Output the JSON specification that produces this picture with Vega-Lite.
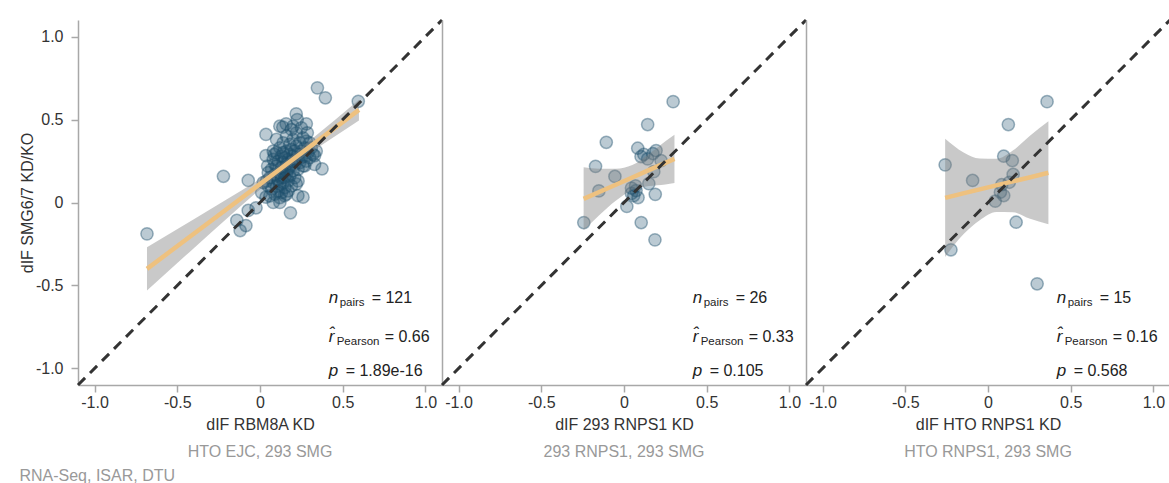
{
  "$schema": "https://vega.github.io/schema/vega-lite/v6.json",
  "padding": {"left": 19, "top": 14, "right": 0, "bottom": 2},
  "background": "white",
  "spacing": 0,
  "bounds": "flush",
  "title": {"text": "RNA-Seq, ISAR, DTU", "orient": "bottom", "anchor": "start", "offset": 8, "color": "#999999", "fontSize": 16, "fontWeight": "normal"},
  "datasets": {
    "diag": [{"x": -1.1, "y": -1.1}, {"x": 1.1, "y": 1.1}],
    "pts1": [
      {"x": -0.683, "y": -0.189}, {"x": -0.221, "y": 0.158}, {"x": -0.071, "y": 0.133}, {"x": 0.036, "y": 0.41},
      {"x": 0.347, "y": 0.691}, {"x": 0.395, "y": 0.631}, {"x": 0.594, "y": 0.61}, {"x": 0.375, "y": 0.203},
      {"x": 0.184, "y": -0.062}, {"x": 0.26, "y": 0.032}, {"x": -0.14, "y": -0.108}, {"x": -0.12, "y": -0.169},
      {"x": -0.085, "y": -0.139}, {"x": -0.071, "y": -0.048}, {"x": -0.024, "y": -0.032}, {"x": 0.036, "y": 0.032},
      {"x": 0.219, "y": 0.534}, {"x": 0.225, "y": 0.5}, {"x": 0.138, "y": 0.454}, {"x": 0.158, "y": 0.474},
      {"x": 0.28, "y": 0.474}, {"x": 0.286, "y": 0.42}, {"x": 0.036, "y": 0.283}, {"x": 0.087, "y": 0.29},
      {"x": 0.33, "y": 0.283}, {"x": 0.33, "y": 0.23}, {"x": 0.27, "y": 0.22}, {"x": 0.219, "y": 0.112},
      {"x": 0.229, "y": 0.042}, {"x": 0.148, "y": 0.042}, {"x": 0.046, "y": 0.22}, {"x": 0.12, "y": 0.46},
      {"x": 0.2, "y": 0.46}, {"x": 0.1, "y": 0.38}, {"x": 0.3, "y": 0.36}, {"x": 0.02, "y": 0.12},
      {"x": 0.01, "y": 0.06}, {"x": 0.08, "y": 0.0}, {"x": 0.12, "y": 0.03}, {"x": 0.34, "y": 0.31},
      {"x": 0.05, "y": 0.1}, {"x": 0.06, "y": 0.15}, {"x": 0.07, "y": 0.08}, {"x": 0.07, "y": 0.2},
      {"x": 0.08, "y": 0.12}, {"x": 0.08, "y": 0.26}, {"x": 0.09, "y": 0.05}, {"x": 0.09, "y": 0.17},
      {"x": 0.1, "y": 0.1}, {"x": 0.1, "y": 0.22}, {"x": 0.1, "y": 0.3}, {"x": 0.11, "y": 0.14},
      {"x": 0.11, "y": 0.07}, {"x": 0.11, "y": 0.25}, {"x": 0.12, "y": 0.18}, {"x": 0.12, "y": 0.11},
      {"x": 0.12, "y": 0.33}, {"x": 0.13, "y": 0.21}, {"x": 0.13, "y": 0.15}, {"x": 0.13, "y": 0.28},
      {"x": 0.13, "y": 0.06}, {"x": 0.14, "y": 0.24}, {"x": 0.14, "y": 0.12}, {"x": 0.14, "y": 0.18},
      {"x": 0.14, "y": 0.36}, {"x": 0.15, "y": 0.2}, {"x": 0.15, "y": 0.27}, {"x": 0.15, "y": 0.09},
      {"x": 0.15, "y": 0.15}, {"x": 0.16, "y": 0.23}, {"x": 0.16, "y": 0.31}, {"x": 0.16, "y": 0.17},
      {"x": 0.16, "y": 0.4}, {"x": 0.17, "y": 0.13}, {"x": 0.17, "y": 0.26}, {"x": 0.17, "y": 0.2},
      {"x": 0.18, "y": 0.29}, {"x": 0.18, "y": 0.35}, {"x": 0.18, "y": 0.16}, {"x": 0.18, "y": 0.22},
      {"x": 0.19, "y": 0.1}, {"x": 0.19, "y": 0.25}, {"x": 0.19, "y": 0.32}, {"x": 0.2, "y": 0.19},
      {"x": 0.2, "y": 0.28}, {"x": 0.2, "y": 0.38}, {"x": 0.21, "y": 0.23}, {"x": 0.21, "y": 0.15},
      {"x": 0.21, "y": 0.31}, {"x": 0.22, "y": 0.26}, {"x": 0.22, "y": 0.34}, {"x": 0.22, "y": 0.42},
      {"x": 0.23, "y": 0.2}, {"x": 0.23, "y": 0.29}, {"x": 0.24, "y": 0.24}, {"x": 0.24, "y": 0.36},
      {"x": 0.25, "y": 0.31}, {"x": 0.25, "y": 0.27}, {"x": 0.26, "y": 0.39}, {"x": 0.26, "y": 0.22},
      {"x": 0.27, "y": 0.33}, {"x": 0.27, "y": 0.28}, {"x": 0.28, "y": 0.25}, {"x": 0.28, "y": 0.37},
      {"x": 0.29, "y": 0.3}, {"x": 0.3, "y": 0.27}, {"x": 0.31, "y": 0.33}, {"x": 0.32, "y": 0.29},
      {"x": 0.06, "y": 0.04}, {"x": 0.09, "y": 0.23}, {"x": 0.12, "y": 0.0}, {"x": 0.17, "y": 0.07},
      {"x": 0.05, "y": 0.18}, {"x": 0.04, "y": 0.13}, {"x": 0.1, "y": 0.16}, {"x": 0.19, "y": 0.44},
      {"x": 0.25, "y": 0.45}, {"x": 0.14, "y": 0.3}, {"x": 0.23, "y": 0.13}, {"x": 0.08, "y": 0.31},
      {"x": 0.16, "y": 0.05}
    ],
    "fit1": [
      {"x": -0.683, "fit": -0.4, "lo": -0.53, "hi": -0.27},
      {"x": -0.4, "fit": -0.188, "lo": -0.275, "hi": -0.101},
      {"x": -0.2, "fit": -0.039, "lo": -0.097, "hi": 0.019},
      {"x": 0.0, "fit": 0.111, "lo": 0.079, "hi": 0.143},
      {"x": 0.13, "fit": 0.208, "lo": 0.183, "hi": 0.233},
      {"x": 0.3, "fit": 0.335, "lo": 0.298, "hi": 0.372},
      {"x": 0.598, "fit": 0.558, "lo": 0.495, "hi": 0.62}
    ],
    "s1": [{"n": "= 121", "r": "= 0.66", "p": "= 1.89e-16"}],
    "pts2": [
      {"x": 0.297, "y": 0.608}, {"x": 0.143, "y": 0.47}, {"x": -0.107, "y": 0.363}, {"x": 0.083, "y": 0.327},
      {"x": 0.194, "y": 0.313}, {"x": 0.103, "y": 0.277}, {"x": 0.143, "y": 0.263}, {"x": 0.224, "y": 0.253},
      {"x": -0.172, "y": 0.218}, {"x": -0.055, "y": 0.157}, {"x": 0.18, "y": 0.186}, {"x": 0.15, "y": 0.114},
      {"x": -0.152, "y": 0.07}, {"x": 0.045, "y": 0.087}, {"x": 0.073, "y": 0.072}, {"x": 0.059, "y": 0.042},
      {"x": 0.189, "y": 0.049}, {"x": 0.017, "y": -0.024}, {"x": -0.243, "y": -0.121}, {"x": 0.104, "y": -0.121},
      {"x": 0.187, "y": -0.225}, {"x": 0.12, "y": 0.29}, {"x": 0.175, "y": 0.295}, {"x": 0.07, "y": 0.1},
      {"x": 0.045, "y": 0.055}, {"x": 0.085, "y": 0.03}
    ],
    "fit2": [
      {"x": -0.244, "fit": 0.022, "lo": -0.168, "hi": 0.212},
      {"x": -0.15, "fit": 0.063, "lo": -0.077, "hi": 0.203},
      {"x": -0.05, "fit": 0.107, "lo": 0.011, "hi": 0.203},
      {"x": 0.05, "fit": 0.151, "lo": 0.076, "hi": 0.226},
      {"x": 0.15, "fit": 0.195, "lo": 0.099, "hi": 0.291},
      {"x": 0.25, "fit": 0.239, "lo": 0.109, "hi": 0.369},
      {"x": 0.305, "fit": 0.263, "lo": 0.118, "hi": 0.408}
    ],
    "s2": [{"n": "= 26", "r": "= 0.33", "p": "= 0.105"}],
    "pts3": [
      {"x": 0.357, "y": 0.608}, {"x": 0.123, "y": 0.47}, {"x": 0.095, "y": 0.279}, {"x": 0.147, "y": 0.253},
      {"x": -0.259, "y": 0.227}, {"x": -0.093, "y": 0.133}, {"x": 0.152, "y": 0.169}, {"x": 0.083, "y": 0.107},
      {"x": 0.129, "y": 0.122}, {"x": 0.075, "y": 0.062}, {"x": 0.095, "y": 0.042}, {"x": 0.044, "y": 0.008},
      {"x": 0.17, "y": -0.119}, {"x": -0.224, "y": -0.285}, {"x": 0.297, "y": -0.49}
    ],
    "fit3": [
      {"x": -0.259, "fit": 0.028, "lo": -0.328, "hi": 0.384},
      {"x": -0.15, "fit": 0.055, "lo": -0.193, "hi": 0.303},
      {"x": -0.05, "fit": 0.079, "lo": -0.107, "hi": 0.265},
      {"x": 0.05, "fit": 0.103, "lo": -0.057, "hi": 0.263},
      {"x": 0.15, "fit": 0.127, "lo": -0.059, "hi": 0.313},
      {"x": 0.25, "fit": 0.151, "lo": -0.097, "hi": 0.399},
      {"x": 0.365, "fit": 0.179, "lo": -0.131, "hi": 0.489}
    ],
    "s3": [{"n": "= 15", "r": "= 0.16", "p": "= 0.568"}]
  },
  "hconcat": [
    {
      "width": 364, "height": 365,
      "title": {"text": "HTO EJC, 293 SMG"},
      "layer": [
        {"data": {"name": "pts1"}, "mark": {"type": "circle", "size": 150, "color": "#1d4e6c", "fillOpacity": 0.3, "stroke": "#1d4e6c", "strokeOpacity": 0.42, "strokeWidth": 1.5},
         "encoding": {
           "x": {"field": "x", "type": "quantitative", "scale": {"domain": [-1.1, 1.1], "nice": false, "zero": false}, "axis": {"title": "dIF RBM8A KD", "values": [-1, -0.5, 0, 0.5, 1]}},
           "y": {"field": "y", "type": "quantitative", "scale": {"domain": [-1.1, 1.1], "nice": false, "zero": false}, "axis": {"title": "dIF SMG6/7 KD/KO", "values": [-1, -0.5, 0, 0.5, 1]}}}},
        {"data": {"name": "fit1"}, "mark": {"type": "area", "color": "#7f7f7f", "opacity": 0.42, "interpolate": "monotone"},
         "encoding": {"x": {"field": "x", "type": "quantitative"}, "y": {"field": "lo", "type": "quantitative"}, "y2": {"field": "hi"}}},
        {"data": {"name": "fit1"}, "mark": {"type": "line", "color": "#eec17f", "strokeWidth": 4.5},
         "encoding": {"x": {"field": "x", "type": "quantitative"}, "y": {"field": "fit", "type": "quantitative"}}},
        {"data": {"name": "diag"}, "mark": {"type": "line", "color": "#333333", "strokeWidth": 3, "strokeDash": [10, 7]},
         "encoding": {"x": {"field": "x", "type": "quantitative"}, "y": {"field": "y", "type": "quantitative"}}},
        {"data": {"name": "s1"},
         "encoding": {"x": {"datum": 0.415, "type": "quantitative"}},
         "layer": [
           {"mark": {"type": "text", "text": "n", "fontStyle": "italic", "fontSize": 17, "align": "left", "baseline": "middle", "color": "#222"}, "encoding": {"y": {"datum": -0.576, "type": "quantitative"}}},
           {"mark": {"type": "text", "text": "pairs", "fontSize": 11.5, "align": "left", "baseline": "middle", "dx": 11, "dy": 5, "color": "#222"}, "encoding": {"y": {"datum": -0.576, "type": "quantitative"}}},
           {"mark": {"type": "text", "fontSize": 16, "align": "left", "baseline": "middle", "dx": 43, "color": "#222"}, "encoding": {"y": {"datum": -0.576, "type": "quantitative"}, "text": {"field": "n"}}},
           {"mark": {"type": "text", "text": "r̂", "fontStyle": "italic", "fontSize": 17, "align": "left", "baseline": "middle", "color": "#222"}, "encoding": {"y": {"datum": -0.811, "type": "quantitative"}}},
           {"mark": {"type": "text", "text": "Pearson", "fontSize": 11.5, "align": "left", "baseline": "middle", "dx": 8, "dy": 5, "color": "#222"}, "encoding": {"y": {"datum": -0.811, "type": "quantitative"}}},
           {"mark": {"type": "text", "fontSize": 16, "align": "left", "baseline": "middle", "dx": 56, "color": "#222"}, "encoding": {"y": {"datum": -0.811, "type": "quantitative"}, "text": {"field": "r"}}},
           {"mark": {"type": "text", "text": "p", "fontStyle": "italic", "fontSize": 17, "align": "left", "baseline": "middle", "color": "#222"}, "encoding": {"y": {"datum": -1.016, "type": "quantitative"}}},
           {"mark": {"type": "text", "fontSize": 16, "align": "left", "baseline": "middle", "dx": 17, "color": "#222"}, "encoding": {"y": {"datum": -1.016, "type": "quantitative"}, "text": {"field": "p"}}}
         ]}
      ]
    },
    {
      "width": 364, "height": 365,
      "title": {"text": "293 RNPS1, 293 SMG"},
      "layer": [
        {"data": {"name": "pts2"}, "mark": {"type": "circle", "size": 150, "color": "#1d4e6c", "fillOpacity": 0.3, "stroke": "#1d4e6c", "strokeOpacity": 0.42, "strokeWidth": 1.5},
         "encoding": {
           "x": {"field": "x", "type": "quantitative", "scale": {"domain": [-1.1, 1.1], "nice": false, "zero": false}, "axis": {"title": "dIF 293 RNPS1 KD", "values": [-1, -0.5, 0, 0.5, 1]}},
           "y": {"field": "y", "type": "quantitative", "scale": {"domain": [-1.1, 1.1], "nice": false, "zero": false}, "axis": {"title": null, "labels": false, "ticks": false}}}},
        {"data": {"name": "fit2"}, "mark": {"type": "area", "color": "#7f7f7f", "opacity": 0.42, "interpolate": "monotone"},
         "encoding": {"x": {"field": "x", "type": "quantitative"}, "y": {"field": "lo", "type": "quantitative"}, "y2": {"field": "hi"}}},
        {"data": {"name": "fit2"}, "mark": {"type": "line", "color": "#eec17f", "strokeWidth": 4.5},
         "encoding": {"x": {"field": "x", "type": "quantitative"}, "y": {"field": "fit", "type": "quantitative"}}},
        {"data": {"name": "diag"}, "mark": {"type": "line", "color": "#333333", "strokeWidth": 3, "strokeDash": [10, 7]},
         "encoding": {"x": {"field": "x", "type": "quantitative"}, "y": {"field": "y", "type": "quantitative"}}},
        {"data": {"name": "s2"},
         "encoding": {"x": {"datum": 0.415, "type": "quantitative"}},
         "layer": [
           {"mark": {"type": "text", "text": "n", "fontStyle": "italic", "fontSize": 17, "align": "left", "baseline": "middle", "color": "#222"}, "encoding": {"y": {"datum": -0.576, "type": "quantitative"}}},
           {"mark": {"type": "text", "text": "pairs", "fontSize": 11.5, "align": "left", "baseline": "middle", "dx": 11, "dy": 5, "color": "#222"}, "encoding": {"y": {"datum": -0.576, "type": "quantitative"}}},
           {"mark": {"type": "text", "fontSize": 16, "align": "left", "baseline": "middle", "dx": 43, "color": "#222"}, "encoding": {"y": {"datum": -0.576, "type": "quantitative"}, "text": {"field": "n"}}},
           {"mark": {"type": "text", "text": "r̂", "fontStyle": "italic", "fontSize": 17, "align": "left", "baseline": "middle", "color": "#222"}, "encoding": {"y": {"datum": -0.811, "type": "quantitative"}}},
           {"mark": {"type": "text", "text": "Pearson", "fontSize": 11.5, "align": "left", "baseline": "middle", "dx": 8, "dy": 5, "color": "#222"}, "encoding": {"y": {"datum": -0.811, "type": "quantitative"}}},
           {"mark": {"type": "text", "fontSize": 16, "align": "left", "baseline": "middle", "dx": 56, "color": "#222"}, "encoding": {"y": {"datum": -0.811, "type": "quantitative"}, "text": {"field": "r"}}},
           {"mark": {"type": "text", "text": "p", "fontStyle": "italic", "fontSize": 17, "align": "left", "baseline": "middle", "color": "#222"}, "encoding": {"y": {"datum": -1.016, "type": "quantitative"}}},
           {"mark": {"type": "text", "fontSize": 16, "align": "left", "baseline": "middle", "dx": 17, "color": "#222"}, "encoding": {"y": {"datum": -1.016, "type": "quantitative"}, "text": {"field": "p"}}}
         ]}
      ]
    },
    {
      "width": 364, "height": 365,
      "title": {"text": "HTO RNPS1, 293 SMG"},
      "layer": [
        {"data": {"name": "pts3"}, "mark": {"type": "circle", "size": 150, "color": "#1d4e6c", "fillOpacity": 0.3, "stroke": "#1d4e6c", "strokeOpacity": 0.42, "strokeWidth": 1.5},
         "encoding": {
           "x": {"field": "x", "type": "quantitative", "scale": {"domain": [-1.1, 1.1], "nice": false, "zero": false}, "axis": {"title": "dIF HTO RNPS1 KD", "values": [-1, -0.5, 0, 0.5, 1]}},
           "y": {"field": "y", "type": "quantitative", "scale": {"domain": [-1.1, 1.1], "nice": false, "zero": false}, "axis": {"title": null, "labels": false, "ticks": false}}}},
        {"data": {"name": "fit3"}, "mark": {"type": "area", "color": "#7f7f7f", "opacity": 0.42, "interpolate": "monotone"},
         "encoding": {"x": {"field": "x", "type": "quantitative"}, "y": {"field": "lo", "type": "quantitative"}, "y2": {"field": "hi"}}},
        {"data": {"name": "fit3"}, "mark": {"type": "line", "color": "#eec17f", "strokeWidth": 4.5},
         "encoding": {"x": {"field": "x", "type": "quantitative"}, "y": {"field": "fit", "type": "quantitative"}}},
        {"data": {"name": "diag"}, "mark": {"type": "line", "color": "#333333", "strokeWidth": 3, "strokeDash": [10, 7]},
         "encoding": {"x": {"field": "x", "type": "quantitative"}, "y": {"field": "y", "type": "quantitative"}}},
        {"data": {"name": "s3"},
         "encoding": {"x": {"datum": 0.415, "type": "quantitative"}},
         "layer": [
           {"mark": {"type": "text", "text": "n", "fontStyle": "italic", "fontSize": 17, "align": "left", "baseline": "middle", "color": "#222"}, "encoding": {"y": {"datum": -0.576, "type": "quantitative"}}},
           {"mark": {"type": "text", "text": "pairs", "fontSize": 11.5, "align": "left", "baseline": "middle", "dx": 11, "dy": 5, "color": "#222"}, "encoding": {"y": {"datum": -0.576, "type": "quantitative"}}},
           {"mark": {"type": "text", "fontSize": 16, "align": "left", "baseline": "middle", "dx": 43, "color": "#222"}, "encoding": {"y": {"datum": -0.576, "type": "quantitative"}, "text": {"field": "n"}}},
           {"mark": {"type": "text", "text": "r̂", "fontStyle": "italic", "fontSize": 17, "align": "left", "baseline": "middle", "color": "#222"}, "encoding": {"y": {"datum": -0.811, "type": "quantitative"}}},
           {"mark": {"type": "text", "text": "Pearson", "fontSize": 11.5, "align": "left", "baseline": "middle", "dx": 8, "dy": 5, "color": "#222"}, "encoding": {"y": {"datum": -0.811, "type": "quantitative"}}},
           {"mark": {"type": "text", "fontSize": 16, "align": "left", "baseline": "middle", "dx": 56, "color": "#222"}, "encoding": {"y": {"datum": -0.811, "type": "quantitative"}, "text": {"field": "r"}}},
           {"mark": {"type": "text", "text": "p", "fontStyle": "italic", "fontSize": 17, "align": "left", "baseline": "middle", "color": "#222"}, "encoding": {"y": {"datum": -1.016, "type": "quantitative"}}},
           {"mark": {"type": "text", "fontSize": 16, "align": "left", "baseline": "middle", "dx": 17, "color": "#222"}, "encoding": {"y": {"datum": -1.016, "type": "quantitative"}, "text": {"field": "p"}}}
         ]}
      ]
    }
  ],
  "config": {
    "font": "Liberation Sans",
    "view": {"stroke": null},
    "title": {"orient": "bottom", "color": "#999999", "fontSize": 16, "fontWeight": "normal", "offset": 12},
    "axis": {
      "grid": false,
      "domainColor": "#a8a8a8",
      "domainWidth": 1.5,
      "tickColor": "#a8a8a8",
      "tickWidth": 1.5,
      "tickSize": 7,
      "labelFontSize": 16,
      "labelColor": "#333333",
      "labelFlush": false,
      "labelOverlap": false,
      "titleFontSize": 16,
      "titleFontWeight": "normal",
      "titleColor": "#333333",
      "labelExpr": "datum.value == 0 ? '0' : (datum.value < 0 ? '-' : '') + format(abs(datum.value), '.1f')"
    },
    "axisX": {"labelPadding": 2, "titlePadding": 6},
    "axisY": {"labelPadding": 8, "titlePadding": 0}
  }
}
